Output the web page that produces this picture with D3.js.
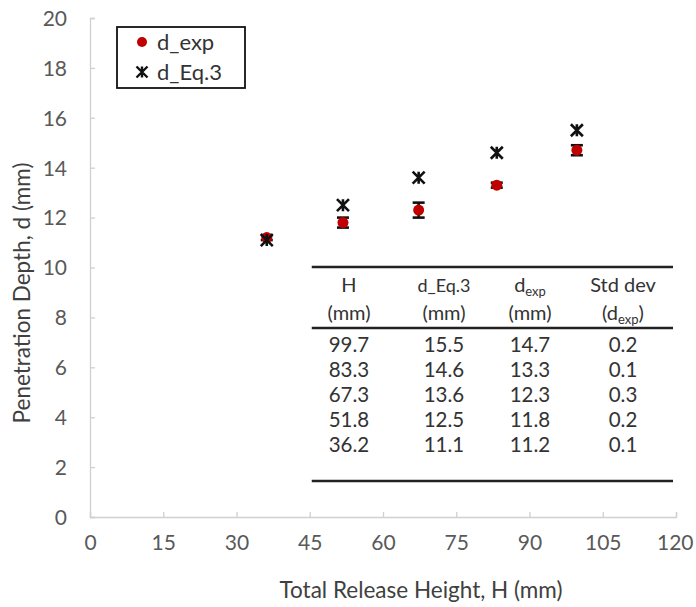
<!DOCTYPE html>
<html>
<head>
<meta charset="utf-8">
<script src="https://cdn.jsdelivr.net/npm/d3@7"></script>
<style>
  body { margin: 0; background: #fff; }
  text { font-family: Lato, "Open Sans", sans-serif; }
</style>
</head>
<body>
<div id="chart"></div>
<script>
const heights = [36.2, 51.8, 67.3, 83.3, 99.7];
const dExp = [11.2, 11.8, 12.3, 13.3, 14.7];
const dEq3 = [11.1, 12.5, 13.6, 14.6, 15.5];
const stdDev = [0.1, 0.2, 0.3, 0.1, 0.2];
const xTicks = [0, 15, 30, 45, 60, 75, 90, 105, 120];
const yTicks = [0, 2, 4, 6, 8, 10, 12, 14, 16, 18, 20];

const width = 696, height = 607;
const svg = d3.select('#chart').append('svg')
    .attr('width', width)
    .attr('height', height);

const x = d3.scaleLinear().domain([0, 120]).range([90, 676]);
const y = d3.scaleLinear().domain([0, 20]).range([517, 18]);

// axes
const xAxis = svg.append('g')
    .attr('transform', `translate(0,${y(0)})`)
    .call(d3.axisBottom(x).tickValues(xTicks).tickSize(-5).tickPadding(22));
const yAxis = svg.append('g')
    .attr('transform', `translate(${x(0)},0)`)
    .call(d3.axisLeft(y).tickValues(yTicks).tickSize(-5).tickPadding(23));

[xAxis, yAxis].forEach(ax => {
    ax.select('.domain').attr('stroke', '#d0d0d0').attr('stroke-width', 1.3);
    ax.selectAll('.tick line').attr('stroke', '#d0d0d0').attr('stroke-width', 1.3);
    ax.selectAll('.tick text').attr('fill', '#595959').style('font-size', '21px');
});
yAxis.selectAll('.tick text').attr('dy', '0.35em');
xAxis.selectAll('.tick text').attr('dy', '0.5em');
// keep the last label inside the frame
xAxis.selectAll('.tick text').filter(d => d === 120).attr('text-anchor', 'end').attr('dx', '17');

// axis titles
svg.append('text')
    .attr('x', 421).attr('y', 598)
    .attr('text-anchor', 'middle')
    .attr('fill', '#404040')
    .style('font-size', '22.5px')
    .text('Total Release Height, H (mm)');

svg.append('text')
    .attr('transform', `translate(30,293) rotate(-90)`)
    .attr('text-anchor', 'middle')
    .attr('fill', '#404040')
    .style('font-size', '22.5px')
    .text('Penetration Depth, d (mm)');

// table in the plot
const tableRows = heights.map((h, i) => [h, dEq3[i], dExp[i], stdDev[i]]).reverse();
const colX = [349, 444, 530, 623];
const tbl = svg.append('g');
const tLeft = x(45) + 2, tRight = 673;
[267, 328, 481].forEach(ly => {
    tbl.append('line')
        .attr('x1', tLeft).attr('x2', tRight)
        .attr('y1', ly).attr('y2', ly)
        .attr('stroke', '#222').attr('stroke-width', 2.5);
});
const hdrStyle = s => s.attr('fill', '#333').style('font-size', '20px').attr('text-anchor', 'middle');
// header line 1
tbl.append('text').attr('x', colX[0]).attr('y', 292).call(hdrStyle).text('H');
tbl.append('text').attr('x', colX[1]).attr('y', 292).call(hdrStyle).style('font-size', '18px').text('d_Eq.3');
const dh = tbl.append('text').attr('x', colX[2]).attr('y', 292).call(hdrStyle);
dh.append('tspan').text('d');
dh.append('tspan').attr('dy', 4).style('font-size', '13px').text('exp');
tbl.append('text').attr('x', colX[3]).attr('y', 292).call(hdrStyle).text('Std dev');
// header line 2
[0, 1, 2].forEach(c => {
    tbl.append('text').attr('x', colX[c]).attr('y', 320).call(hdrStyle).text('(mm)');
});
const sd = tbl.append('text').attr('x', colX[3]).attr('y', 320).call(hdrStyle);
sd.append('tspan').text('(d');
sd.append('tspan').attr('dy', 4).style('font-size', '13px').text('exp');
sd.append('tspan').attr('dy', -4).text(')');

tableRows.forEach((row, r) => {
    row.forEach((v, c) => {
        tbl.append('text')
            .attr('x', colX[c])
            .attr('y', 352 + r * 25)
            .attr('text-anchor', 'middle')
            .attr('fill', '#333')
            .style('font-size', '20.5px')
            .text(v.toFixed(1));
    });
});

// star marker: X with vertical line
const starPath = (s) => `M${-s},${-s}L${s},${s}M${-s},${s}L${s},${-s}M0,${-s}L0,${s}`;

// d_exp points with error bars
const expData = heights.map((h, i) => ({ h, d: dExp[i], s: stdDev[i] }));
const eb = svg.append('g');
const ebars = eb.selectAll('g.err')
    .data(expData)
    .enter().append('g').attr('class', 'err')
    .attr('stroke', '#111').attr('stroke-width', 2.6);
ebars.append('line')
    .attr('x1', d => x(d.h)).attr('x2', d => x(d.h))
    .attr('y1', d => y(d.d - d.s)).attr('y2', d => y(d.d + d.s));
ebars.append('line')
    .attr('x1', d => x(d.h) - 6).attr('x2', d => x(d.h) + 6)
    .attr('y1', d => y(d.d + d.s)).attr('y2', d => y(d.d + d.s));
ebars.append('line')
    .attr('x1', d => x(d.h) - 6).attr('x2', d => x(d.h) + 6)
    .attr('y1', d => y(d.d - d.s)).attr('y2', d => y(d.d - d.s));
eb.selectAll('circle')
    .data(expData)
    .enter().append('circle')
    .attr('cx', d => x(d.h))
    .attr('cy', d => y(d.d))
    .attr('r', 5.5)
    .attr('fill', '#c00000');

// d_Eq.3 stars (drawn on top)
svg.append('g').selectAll('path')
    .data(heights.map((h, i) => ({ h, d: dEq3[i] })))
    .enter().append('path')
    .attr('transform', d => `translate(${x(d.h)},${y(d.d)})`)
    .attr('d', starPath(6))
    .attr('fill', 'none')
    .attr('stroke', '#111')
    .attr('stroke-width', 2.6);

// legend
const lg = svg.append('g');
lg.append('rect')
    .attr('x', 117).attr('y', 27)
    .attr('width', 128).attr('height', 61)
    .attr('fill', '#fff').attr('stroke', '#111').attr('stroke-width', 1.8);
lg.append('circle').attr('cx', 142).attr('cy', 42).attr('r', 5).attr('fill', '#c00000');
lg.append('path')
    .attr('transform', 'translate(142,72)')
    .attr('d', starPath(5.5))
    .attr('stroke', '#111').attr('stroke-width', 2.4).attr('fill', 'none');
lg.append('text').attr('x', 157).attr('y', 50).attr('fill', '#333').style('font-size', '22px').text('d_exp');
lg.append('text').attr('x', 157).attr('y', 80).attr('fill', '#333').style('font-size', '22px').text('d_Eq.3');
</script>
</body>
</html>
